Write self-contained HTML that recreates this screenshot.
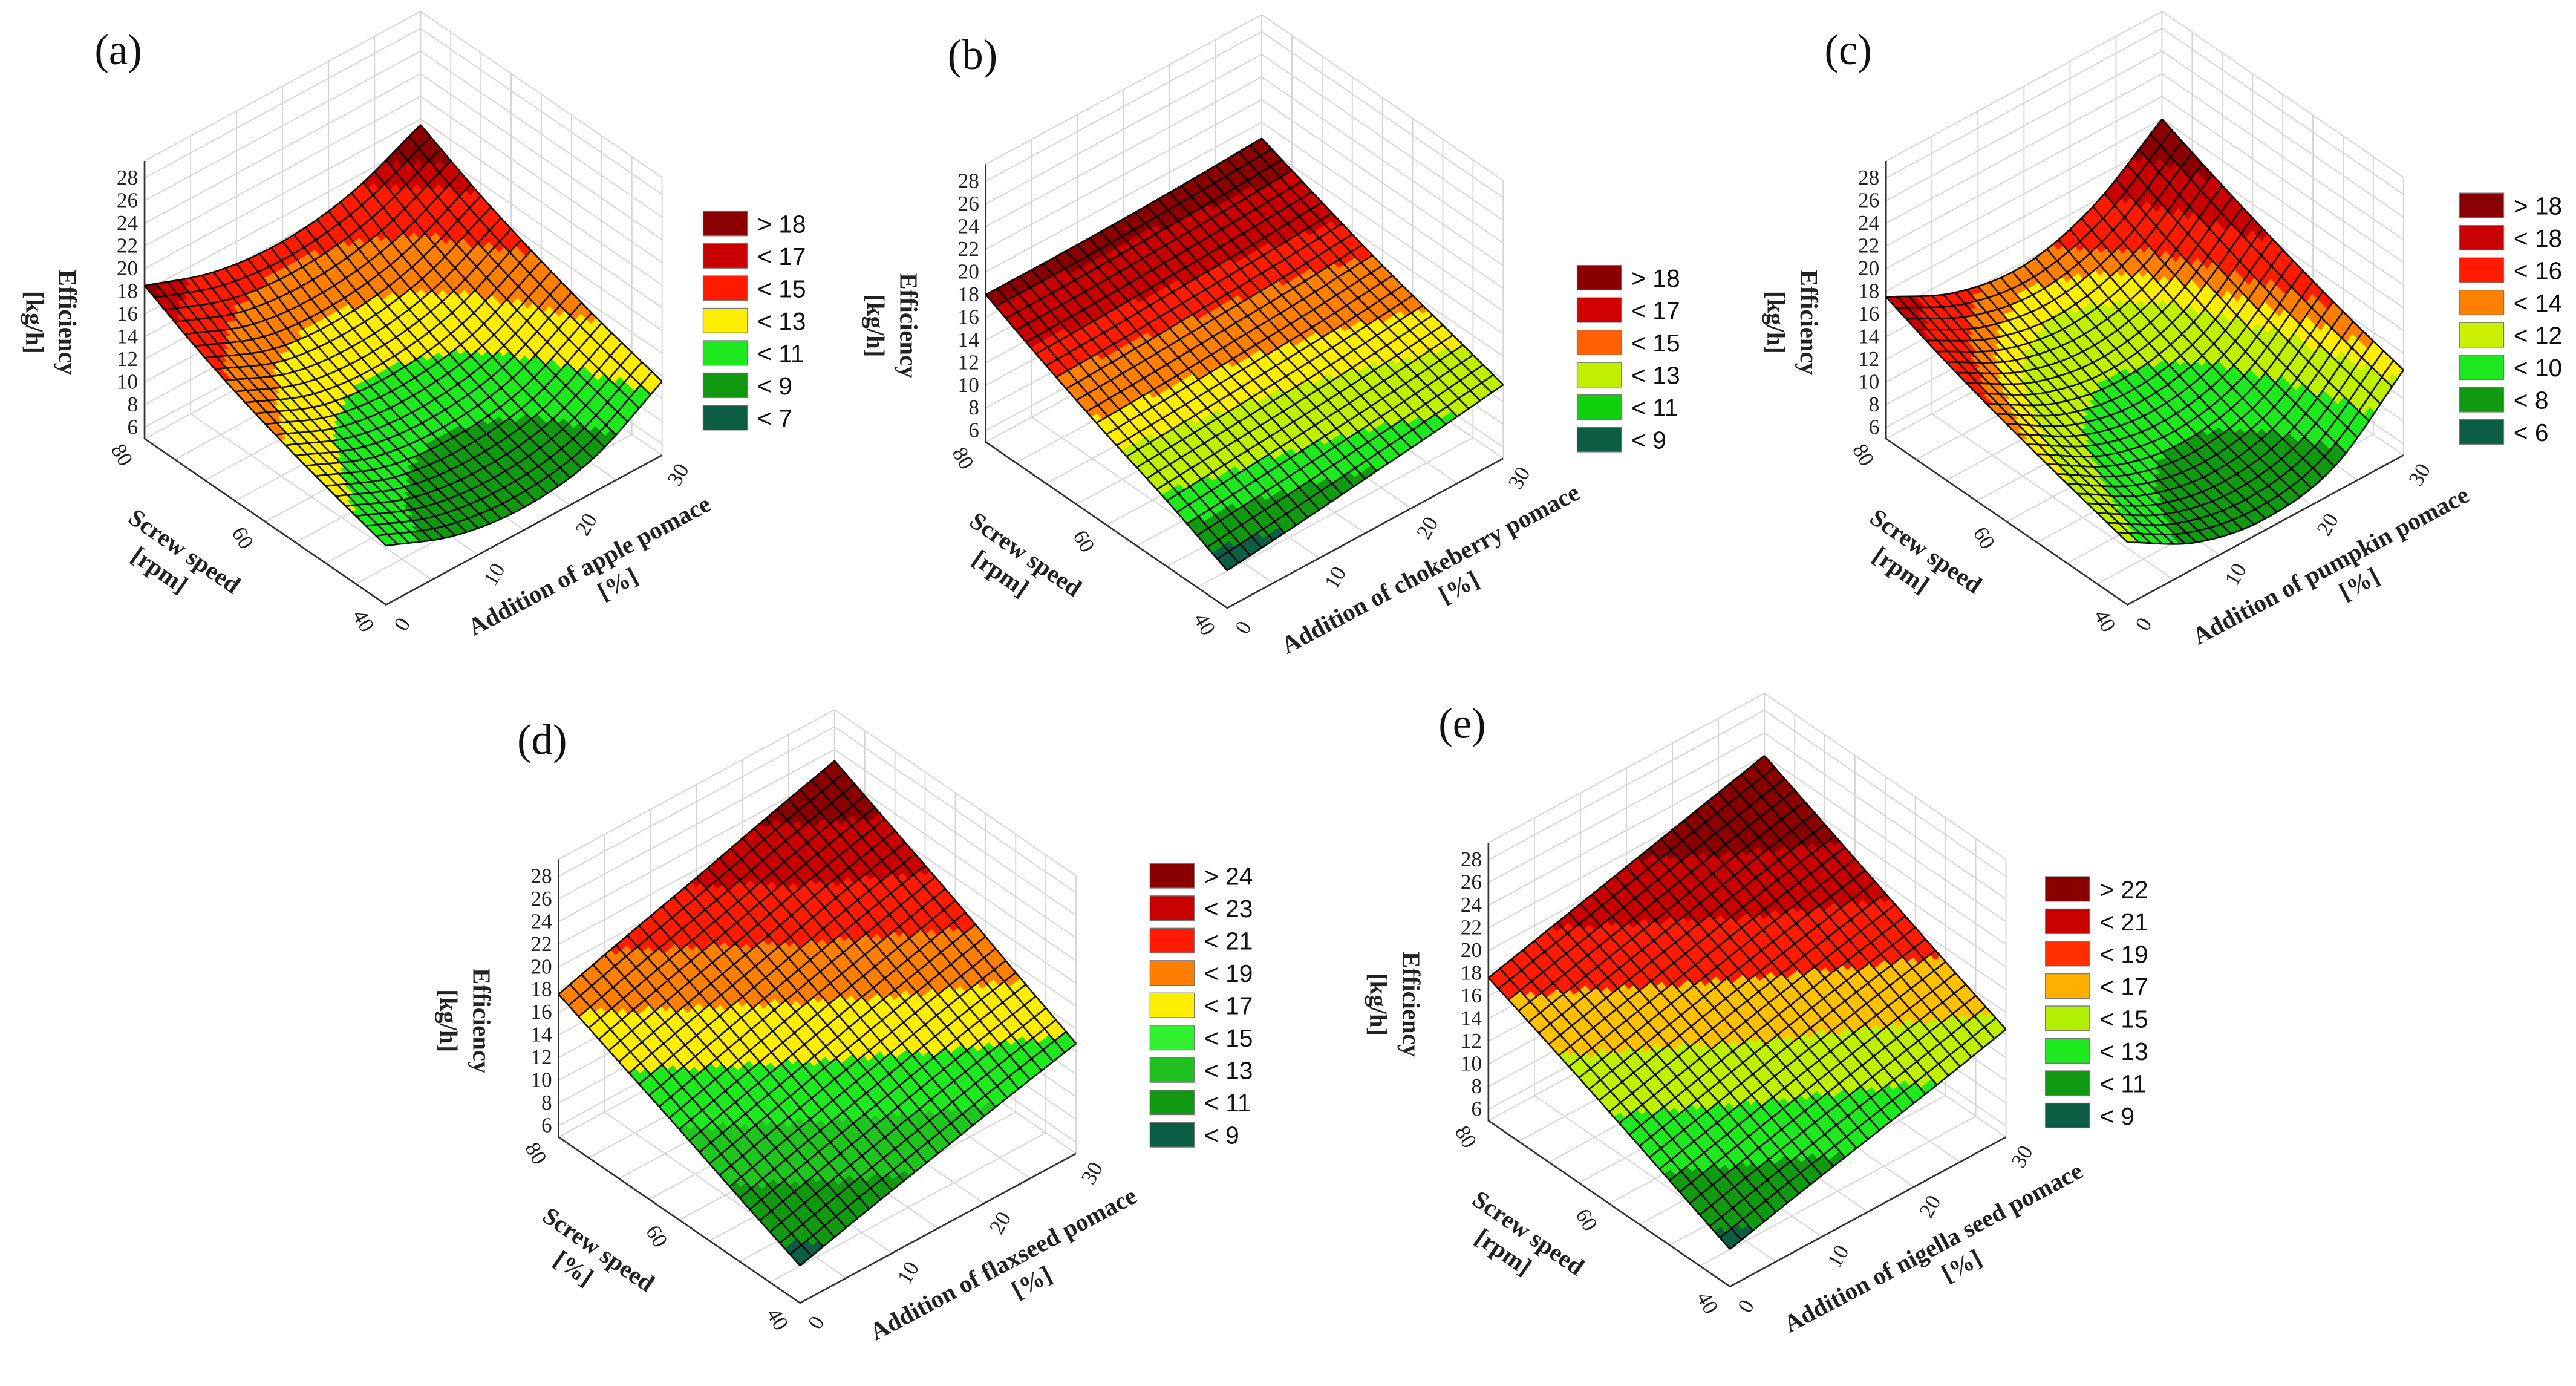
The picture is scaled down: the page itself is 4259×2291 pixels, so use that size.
<!DOCTYPE html>
<html><head><meta charset="utf-8"><style>
html,body{margin:0;padding:0;background:#fff;}
svg{display:block;}
</style></head><body>
<svg id="fig" xmlns="http://www.w3.org/2000/svg" width="4259" height="2291" viewBox="0 0 1568 843.5" preserveAspectRatio="none"></svg>
<script>
// ---- data ----
const zTicks = [6,8,10,12,14,16,18,20,22,24,26,28];
const pomaceTicks = [0,10,20,30];
const screwTicks = [40,60,80];
// grids: rows = screw speed 40,50,60,70,80 ; columns = pomace 0,7.5,15,22.5,30
const gridA = [
 [10.2,7.8,7.0,8.0,11.5],
 [11.8,9.3,8.6,9.6,13.0],
 [13.6,11.1,10.5,11.6,14.8],
 [15.8,13.3,12.8,13.9,16.9],
 [18.5,16.4,15.8,16.8,19.5]];
const gridB = [
 [8.3,9.0,9.8,10.6,11.5],
 [10.8,11.3,11.8,12.4,13.1],
 [13.0,13.3,13.7,14.1,14.7],
 [15.4,15.6,15.9,16.2,16.6],
 [18.0,18.0,18.1,18.3,18.6]];
const gridC = [
 [10.5,7.2,6.0,7.3,12.5],
 [12.0,8.6,7.4,8.9,14.0],
 [13.6,10.3,9.2,10.8,15.8],
 [15.4,12.3,11.3,13.0,17.8],
 [17.5,14.6,13.7,15.6,20.0]];
const gridD = [
 [8.3,10.0,11.6,13.2,14.7],
 [10.6,12.4,14.1,15.8,17.3],
 [13.0,14.8,16.6,18.3,20.0],
 [15.3,17.2,19.0,20.9,22.5],
 [17.6,19.5,21.3,23.2,25.0]];
const gridE = [
 [8.3,9.9,11.4,12.9,14.5],
 [10.7,12.3,13.9,15.4,16.8],
 [13.1,14.7,16.3,17.8,19.2],
 [15.4,17.0,18.6,20.2,21.6],
 [17.6,19.2,20.8,22.4,24.0]];
const legendA = ["> 18","< 17","< 15","< 13","< 11","< 9","< 7"];
const legendB = ["> 18","< 17","< 15","< 13","< 11","< 9"];
const legendC = ["> 18","< 18","< 16","< 14","< 12","< 10","< 8","< 6"];
const legendD = ["> 24","< 23","< 21","< 19","< 17","< 15","< 13","< 11","< 9"];
const legendE = ["> 22","< 21","< 19","< 17","< 15","< 13","< 11","< 9"];
const edgesA = [7,9,11,13,15,17,18];
const edgesB = [9,10,11,12.5,13.5,15,16,17.5];
const edgesC = [6,8,10,12,13,14,16,18];
const edgesD = [9,11,13,15,17,19,21,23];
const edgesE = [9,11,13,15,17,19,21];

const TEAL="#0b5e45",DKG="#119a11",MG="#1fc41f",GRN="#1ee81e",LGRN="#bff000",YEL="#ffee00",ORG="#ff8000",RED="#ff1a00",DRED="#c80000",MAR="#8a0000";
const panels = [
 {id:"a",grid:gridA,edges:edgesA,cols:[TEAL,DKG,GRN,YEL,ORG,RED,DRED,MAR],leg:legendA,legCols:[MAR,DRED,RED,YEL,GRN,DKG,TEAL],
  dx:0,dy:0,lx:428,ly:136,lab:[72,30],title:"Addition of apple pomace",unit:"[rpm]"},
 {id:"b",grid:gridB,edges:edgesB,cols:[TEAL,DKG,GRN,LGRN,YEL,ORG,RED,DRED,MAR],leg:legendB,legCols:[MAR,"#d00000","#ff6000","#c0f000","#10d010",TEAL],
  dx:512,dy:2,lx:960,ly:169,lab:[592,33],title:"Addition of chokeberry pomace",unit:"[rpm]"},
 {id:"c",grid:gridC,edges:edgesC,cols:[TEAL,DKG,GRN,LGRN,YEL,ORG,RED,DRED,MAR],leg:legendC,legCols:[MAR,DRED,RED,ORG,"#ccee00",GRN,DKG,TEAL],
  dx:1060,dy:0,lx:1497,ly:125,lab:[1125,30],title:"Addition of pumpkin pomace",unit:"[rpm]"},
 {id:"d",grid:gridD,edges:edgesD,cols:[TEAL,DKG,MG,GRN,YEL,ORG,RED,DRED,MAR],leg:legendD,legCols:[MAR,DRED,RED,ORG,YEL,"#30f030","#20c020",DKG,TEAL],
  dx:252,dy:425,lx:700,ly:533,lab:[330,450],title:"Addition of flaxseed pomace",unit:"[%]"},
 {id:"e",grid:gridE,edges:edgesE,cols:[TEAL,DKG,GRN,LGRN,"#ffc000",RED,DRED,MAR],leg:legendE,legCols:[MAR,DRED,"#ff3000","#ffb000","#b0f000",GRN,DKG,TEAL],
  dx:818,dy:415,lx:1245,ly:541,lab:[890,440],title:"Addition of nigella seed pomace",unit:"[rpm]"}
];

// ---- geometry ----
const F=[235,368], P=[168,-91], S=[-147,-101], ZF=5, ZS=6.9, ZTOP=29.5;
const NS="http://www.w3.org/2000/svg";
const svg=document.getElementById('fig');
function mk(tag,attrs,parent){const e=document.createElementNS(NS,tag);for(const k in attrs)e.setAttribute(k,attrs[k]);(parent||svg).appendChild(e);return e;}
function proj(p,u,v,z){return [p.dx+F[0]+u*P[0]+v*S[0], p.dy+F[1]+u*P[1]+v*S[1]-(z-ZF)*ZS];}
function cr(a,t){const f=t*4;const i=Math.min(3,Math.floor(f));const s=f-i;
 const q=k=>k<0?2*a[0]-a[1]:(k>4?2*a[4]-a[3]:a[k]);
 const p0=q(i-1),p1=q(i),p2=q(i+1),p3=q(i+2);
 return 0.5*((2*p1)+(-p0+p2)*s+(2*p0-5*p1+4*p2-p3)*s*s+(-p0+3*p1-3*p2+p3)*s*s*s);}
function val(g,u,v){const col=g.map(r=>cr(r,u));return cr(col,v);}
function colorOf(p,z){let k=0;while(k<p.edges.length&&z>=p.edges[k])k++;return p.cols[k];}
function pts(a){return a.map(q=>q[0].toFixed(2)+","+q[1].toFixed(2)).join(" ");}

panels.forEach(p=>{
 const g=mk('g',{});
 
 
 const wall=mk('g',{stroke:"#d4d4d4","stroke-width":0.7,fill:"none"},g);
 
 
 for(let k=0;k<=6;k++){const u=k/6;
   mk('line',{x1:proj(p,u,1,ZF)[0],y1:proj(p,u,1,ZF)[1],x2:proj(p,u,1,ZTOP)[0],y2:proj(p,u,1,ZTOP)[1]},wall);
   mk('line',{x1:proj(p,u,0,ZF)[0],y1:proj(p,u,0,ZF)[1],x2:proj(p,u,1,ZF)[0],y2:proj(p,u,1,ZF)[1]},wall);}
 for(let k=0;k<=8;k++){const v=k/8;
   mk('line',{x1:proj(p,1,v,ZF)[0],y1:proj(p,1,v,ZF)[1],x2:proj(p,1,v,ZTOP)[0],y2:proj(p,1,v,ZTOP)[1]},wall);
   mk('line',{x1:proj(p,0,v,ZF)[0],y1:proj(p,0,v,ZF)[1],x2:proj(p,1,v,ZF)[0],y2:proj(p,1,v,ZF)[1]},wall);}
 zTicks.concat([ZTOP]).forEach(z=>{
   mk('polyline',{points:pts([proj(p,0,1,z),proj(p,1,1,z),proj(p,1,0,z)])},wall);});
 const ax=mk('g',{stroke:"#333","stroke-width":1,fill:"none"},g);
 
 
 mk('polyline',{points:pts([proj(p,0,1,ZTOP),proj(p,0,1,ZF),proj(p,0,0,ZF),proj(p,1,0,ZF)])},ax);
 zTicks.forEach(z=>{const q=proj(p,0,1,z);
   const t=mk('text',{x:q[0]-4,y:q[1]+4,"text-anchor":"end","font-family":"Liberation Serif, serif","font-size":13,fill:"#222"},g);
   
   
   t.textContent=z;});
 screwTicks.forEach(s=>{const v=(s-40)/40;const q=proj(p,0,v,ZF);
   const t=mk('text',{x:q[0]-14,y:q[1]+14,"text-anchor":"middle","font-family":"Liberation Serif, serif","font-size":13,fill:"#222",transform:`rotate(60 ${q[0]-14} ${q[1]+10})`},g);
   
   
   t.textContent=s;});
 pomaceTicks.forEach(a=>{const u=a/30;const q=proj(p,u,0,ZF);
   const t=mk('text',{x:q[0]+10,y:q[1]+16,"text-anchor":"middle","font-family":"Liberation Serif, serif","font-size":13,fill:"#222",transform:`rotate(-60 ${q[0]+10} ${q[1]+12})`},g);
   
   
   t.textContent=a;});
 const surf=mk('g',{},g);
 
 
 const N=48, cells=[];
 for(let i=0;i<N;i++)for(let j=0;j<N;j++)cells.push([i,j]);
 cells.sort((a,b)=>(b[0]+b[1])-(a[0]+a[1]));
 cells.forEach(([i,j])=>{const u0=i/N,u1=(i+1)/N,v0=j/N,v1=(j+1)/N;
   const c=colorOf(p,val(p.grid,(u0+u1)/2,(v0+v1)/2));
   const poly=mk('polygon',{points:pts([proj(p,u0,v0,val(p.grid,u0,v0)),proj(p,u1,v0,val(p.grid,u1,v0)),proj(p,u1,v1,val(p.grid,u1,v1)),proj(p,u0,v1,val(p.grid,u0,v1))]),fill:c,stroke:c,"stroke-width":0.4},surf);
   
   });
 const mesh=mk('g',{stroke:"#000","stroke-width":1.0,fill:"none","stroke-opacity":0.9},g);
 
 
 const M=24,R=48;
 for(let k=0;k<=M;k++){const a=[],b=[];
   for(let r=0;r<=R;r++){const w=r/R;a.push(proj(p,k/M,w,val(p.grid,k/M,w)));b.push(proj(p,w,k/M,val(p.grid,w,k/M)));}
   mk('polyline',{points:pts(a)},mesh);mk('polyline',{points:pts(b)},mesh);}
 const zq=proj(p,0,1,17);
 const zt=mk('g',{transform:`translate(${zq[0]-52},${zq[1]+12}) rotate(90)`,"font-family":"Liberation Serif, serif","font-size":15,"font-weight":"bold",fill:"#222","text-anchor":"middle"},g);
 
 
 mk('text',{x:0,y:0},zt).textContent="Efficiency";
 mk('text',{x:0,y:20},zt).textContent="[kg/h]";
 const sq=proj(p,0,0.5,ZF);
 const st=mk('g',{transform:`translate(${sq[0]-52},${sq[1]+22}) rotate(34.5)`,"font-family":"Liberation Serif, serif","font-size":15,"font-weight":"bold",fill:"#222","text-anchor":"middle"},g);
 
 
 mk('text',{x:0,y:0},st).textContent="Screw speed";
 mk('text',{x:-6,y:18},st).textContent=p.unit;
 const pq=proj(p,0.5,0,ZF);
 const pt=mk('g',{transform:`translate(${pq[0]+42},${pq[1]+26}) rotate(-28)`,"font-family":"Liberation Serif, serif","font-size":15,"font-weight":"bold",fill:"#222","text-anchor":"middle"},g);
 
 
 mk('text',{x:0,y:0},pt).textContent=p.title;
 mk('text',{x:10,y:18},pt).textContent="[%]";
 const pl=mk('text',{x:p.lab[0],y:p.lab[1]+9,"text-anchor":"middle","font-family":"Liberation Serif, serif","font-size":26,fill:"#111"},g);
 
 
 pl.textContent="("+p.id+")";
 const lg=mk('g',{},g);
 
 
 p.leg.forEach((l,k)=>{const y=p.ly+k*19.7;
   const r=mk('rect',{x:p.lx,y:y-7.5,width:27,height:15,fill:p.legCols[k],stroke:"#777","stroke-width":0.5},lg);
   
   
   const t=mk('text',{x:p.lx+33,y:y+5.5,"font-family":"Liberation Sans, sans-serif","font-size":15,fill:"#111"},lg);
   
   
   t.textContent=l;});
});
</script>
</body></html>
